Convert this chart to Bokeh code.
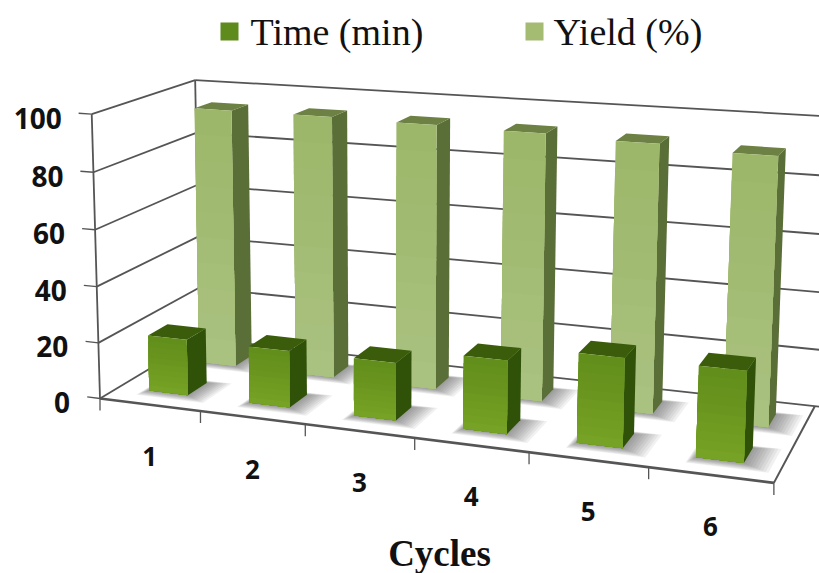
import numpy as np
from bokeh.plotting import figure
from bokeh.embed import file_html
from bokeh.resources import INLINE
from bokeh.core.properties import value

# ---- chart data
cycles = ["1", "2", "3", "4", "5", "6"]
time_min = [20, 20, 20, 25, 30, 30]
yield_pct = [94.5, 94.5, 94, 93.5, 92.5, 91]
y_ticks = [0, 20, 40, 60, 80, 100]
series_names = ["Time (min)", "Yield (%)"]
x_title = "Cycles"

# ---- colours (front: value-end and floor-end of the face shading)
TIME = dict(front=((0x62, 0x8e, 0x1b), (0x76, 0xa2, 0x25)), side="#2f5208", top="#3b5c0b", legend="#5f8a1c")
YIELD = dict(front=((0x9d, 0xb7, 0x6a), (0xaa, 0xc2, 0x80)), side="#5a6e37", top="#6c8143", legend="#a3bc72")
GRID = "#555555"

# ---- 3D camera fitted on the box corners (u: category, d: depth, h: value)
corners = [
    ((0, 0, 0), (102, 398)), ((6, 0, 0), (773, 483)), ((6, 1, 0), (815, 405)),
    ((0, 1, 0), (197, 338)), ((0, 0, 100), (89, 113)), ((0, 1, 100), (197, 80)),
    ((6, 1, 100), (826, 116)),
]
A = []
for (u, d, h), (sx, sy) in corners:
    A.append([u, d, h, 1, 0, 0, 0, 0, -sx * u, -sx * d, -sx * h, -sx])
    A.append([0, 0, 0, 0, u, d, h, 1, -sy * u, -sy * d, -sy * h, -sy])
P = np.linalg.svd(np.array(A, float))[2][-1].reshape(3, 4)


def proj(u, d, h):
    q = P @ np.array([u, d, h, 1.0])
    return q[0] / q[2], q[1] / q[2]


p = figure(width=819, height=573, x_range=(0, 819), y_range=(573, 0),
           output_backend="svg", toolbar_location=None, min_border=0,
           outline_line_color=None, background_fill_color="white")
p.axis.visible = False
p.grid.visible = False


def seg(a, b, w=1.8, c=GRID):
    (x0, y0), (x1, y1) = proj(*a), proj(*b)
    p.line([x0, x1], [y0, y1], line_color=c, line_width=w)


def poly(pts, color, alpha=1.0):
    xy = [proj(*q) for q in pts]
    p.patch([q[0] for q in xy], [q[1] for q in xy], fill_color=color,
            fill_alpha=alpha, line_color=None)


# walls and floor
for t in y_ticks:
    seg((0, 0, t), (0, 1, t))
    seg((0, 1, t), (6.1, 1, t))
seg((0, 0, 0), (0, 0, 100))
seg((0, 1, 0), (0, 1, 100))
seg((6, 1, 0), (6, 0, 0), 2.0)
seg((0, 0, 0), (6, 0, 0), 2.6)
for t in y_ticks:
    seg((0, 0, t), (-0.13, 0, t), 1.3)
for i in range(len(cycles) + 1):
    x0, y0 = proj(i, 0, 0)
    p.line([x0, x0], [y0, y0 + 12], line_color=GRID, line_width=1.3)


def bar(i, val, d0, d1, col, w0, w1):
    u0, u1 = i + w0, i + w1
    # soft floor shadow
    for m in np.linspace(0.15, 0.015, 9):
        poly([(u0 - m * 0.35, d0 - m * 0.5, 0), (u1 + m * 1.5, d0 - m * 0.5, 0),
              (u1 + m * 1.5, d1 + m * 0.2, 0), (u0 - m * 0.35, d1 + m * 0.2, 0)],
             "#444444", 0.075)
    poly([(u1, d0, 0), (u1, d1, 0), (u1, d1, val), (u1, d0, val)], col["side"])
    poly([(u0, d0, val), (u1, d0, val), (u1, d1, val), (u0, d1, val)], col["top"])
    # front face shading: overlapping bands, from the full height down to the floor
    hi, lo = col["front"]
    n = 10
    for k in range(n):
        f = k / (n - 1)
        c = "#%02x%02x%02x" % tuple(int(hi[j] + (lo[j] - hi[j]) * f) for j in range(3))
        h = val * (1 - k / n)
        poly([(u0, d0, 0), (u1, d0, 0), (u1, d0, h), (u0, d0, h)], c)


for i, v in enumerate(yield_pct):
    bar(i, v, 0.65, 0.83, YIELD, 0.34, 0.72)
for i, v in enumerate(time_min):
    bar(i, v, 0.18, 0.37, TIME, 0.305, 0.695)

# value labels
for t in y_ticks:
    x, y = proj(0, 0, t)
    p.text([x - 30], [y + 4], text=[str(t)], text_align="right", text_baseline="middle",
           text_font=value("Open Sans"), text_font_style="bold", text_font_size="28px",
           text_color="#111111")
# category labels
for i, c in enumerate(cycles):
    x, y = proj(i + 0.5, 0, 0)
    p.text([x], [y + 52], text=[c], text_align="center", text_baseline="middle",
           text_font=value("Open Sans"), text_font_style="bold", text_font_size="26px",
           text_color="#111111")

p.text([439], [553], text=[x_title], text_align="center", text_baseline="alphabetic",
       text_font=value("Liberation Serif"), text_font_style="bold",
       text_font_size="37px", text_color="#111111")

# legend
for sx, tx, name, col in zip([229, 534], [250, 553], series_names, [TIME, YIELD]):
    p.scatter([sx], [31], marker="square", size=18, fill_color=col["legend"], line_color=None)
    p.text([tx], [31], text=[name], text_align="left", text_baseline="middle",
           text_font=value("Liberation Serif"), text_font_size="38px", text_color="#111111")

open("out.html", "w").write(file_html(p, INLINE))
